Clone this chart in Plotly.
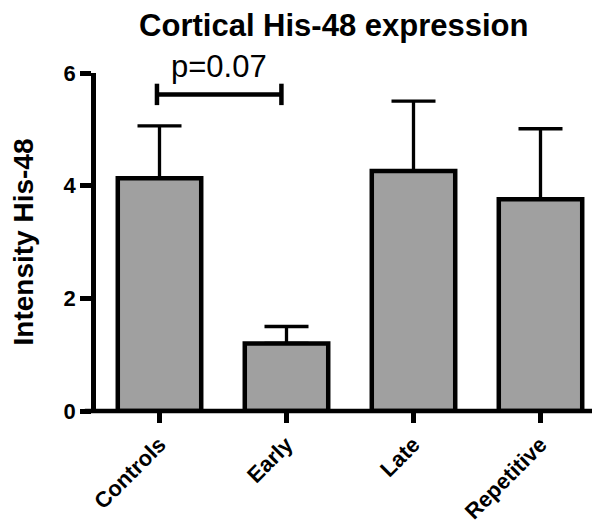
import plotly.graph_objects as go

categories = ["Controls", "Early", "Late", "Repetitive"]
means = [4.13, 1.20, 4.26, 3.76]
upper = [5.06, 1.50, 5.50, 5.01]
y_ticks = [0, 2, 4, 6]
bracket_x = [-0.02, 0.96]
bracket_y = 5.62
p_label = "p=0.07"

err_plus = [u - m for u, m in zip(upper, means)]

FONT = "Liberation Sans, Arial, sans-serif"
LW = 4.5

fig = go.Figure()
fig.add_trace(go.Bar(
    x=list(range(len(categories))), y=means, width=0.657,
    marker=dict(color="#a0a0a0", line=dict(color="black", width=LW)),
    error_y=dict(type="data", array=err_plus, arrayminus=[0] * len(means),
                 symmetric=False, color="black", thickness=3.3, width=22),
    showlegend=False, hoverinfo="skip",
))

# significance bracket
x0, x1 = bracket_x
fig.add_trace(go.Scatter(
    x=[x0, x0, None, x0, x1, None, x1, x1],
    y=[bracket_y - 0.19, bracket_y + 0.19, None, bracket_y, bracket_y, None,
       bracket_y - 0.19, bracket_y + 0.19],
    mode="lines", line=dict(color="black", width=LW),
    showlegend=False, hoverinfo="skip", cliponaxis=False,
))
fig.add_annotation(x=(x0 + x1) / 2, y=bracket_y, yref="y", xref="x",
                   text=p_label, showarrow=False, yanchor="bottom", yshift=8,
                   font=dict(family=FONT, size=31, color="black"))

fig.update_layout(
    width=600, height=526,
    margin=dict(l=88, r=4, t=65, b=123),
    plot_bgcolor="white", paper_bgcolor="white",
    title=dict(text="<b>Cortical His-48 expression</b>", xref="container",
               x=0.543, xanchor="center", yref="container", y=0.968, yanchor="middle",
               font=dict(family=FONT, size=31, color="black")),
    xaxis=dict(
        range=[-0.5, 3.5], tickmode="array",
        tickvals=list(range(len(categories))),
        ticktext=["<b>%s</b>" % c for c in categories],
        tickangle=-45, ticks="outside", ticklen=11, tickwidth=LW, tickcolor="black",
        showline=False, showgrid=False, zeroline=False, automargin=False,
        tickfont=dict(family=FONT, size=22, color="black"),
    ),
    yaxis=dict(
        range=[0, 6], tickvals=y_ticks,
        ticktext=["<b>%d</b>" % t for t in y_ticks],
        ticks="outside", ticklen=11, tickwidth=LW, tickcolor="black",
        showline=True, linecolor="black", linewidth=LW,
        showgrid=False, zeroline=False, automargin=False,
        tickfont=dict(family=FONT, size=22, color="black"),
        title=dict(text="<b>Intensity His-48</b>", standoff=30,
                   font=dict(family=FONT, size=28, color="black")),
    ),
)
# x axis baseline extending slightly left of the y axis
fig.add_shape(type="line", xref="paper", yref="paper", x0=-0.022, x1=1.004,
              y0=0, y1=0, line=dict(color="black", width=LW))

fig.write_html("out.html")
